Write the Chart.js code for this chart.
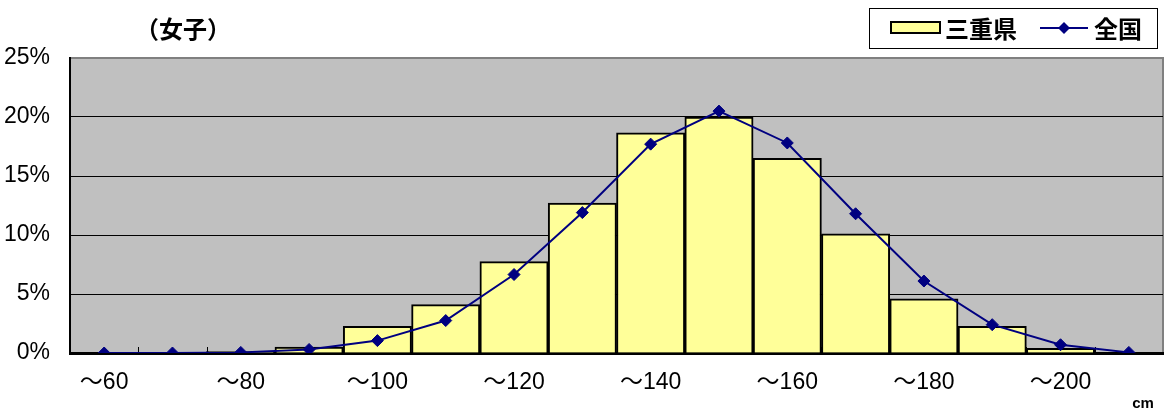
<!DOCTYPE html>
<html>
<head>
<meta charset="utf-8">
<script src="https://cdn.jsdelivr.net/npm/chart.js@4"></script>
<style>
  html, body { margin: 0; padding: 0; background: #fff; }
  #wrap { position: relative; width: 1173px; height: 414px; }
</style>
</head>
<body>
<div id="wrap">
  <canvas id="chart" width="1173" height="414"></canvas>
</div>
<script>
// height classes (cm)
const heightClasses = ['～60', '～70', '～80', '～90', '～100', '～110', '～120', '～130',
                       '～140', '～150', '～160', '～170', '～180', '～190', '～200', '～210'];
// share of girls in each class (%)
const mieValues = [0, 0, 0.15, 0.5, 2.25, 4.1, 7.75, 12.7, 18.65, 20.0, 16.5, 10.1, 4.6, 2.25, 0.4, 0];
const nationalValues = [0, 0, 0.05, 0.3, 1.05, 2.75, 6.65, 11.9, 17.7, 20.5, 17.8, 11.8, 6.1, 2.4, 0.7, 0.05];
const yTicks = [0, 5, 10, 15, 20, 25];

const titleText = '（女子）';
const mieLabel = '三重県';
const nationalLabel = '全国';
const unitText = 'cm';

const cjkFont = '"Noto Sans CJK JP", "Noto Sans", sans-serif';
const latinFont = '"Liberation Sans", "Noto Sans CJK JP", sans-serif';
const navy = '#000080';
const barYellow = '#FFFF99';

// gray plot area, top/right frame and inner x tick marks
const plotFrame = {
    id: 'plotFrame',
    beforeDatasetsDraw(chart) {
        const { ctx, chartArea: a, scales: { x } } = chart;
        ctx.save();
        ctx.strokeStyle = '#000';
        ctx.lineWidth = 1;
        for (let i = 1; i < heightClasses.length; i++) {
            const bx = Math.round((x.getPixelForValue(i - 1) + x.getPixelForValue(i)) / 2) + 0.5;
            ctx.beginPath();
            ctx.moveTo(bx, a.bottom);
            ctx.lineTo(bx, a.bottom - 6);
            ctx.stroke();
        }
        ctx.restore();
    },
    beforeDraw(chart) {
        const { ctx, chartArea: a } = chart;
        ctx.save();
        ctx.fillStyle = '#C0C0C0';
        ctx.fillRect(a.left, a.top, a.right - a.left, a.bottom - a.top);
        ctx.strokeStyle = '#808080';
        ctx.lineWidth = 2;
        ctx.beginPath();
        ctx.moveTo(a.left, a.top);
        ctx.lineTo(a.right, a.top);
        ctx.lineTo(a.right, a.bottom);
        ctx.stroke();
        ctx.restore();
    }
};

// title, boxed legend and unit label
const annotations = {
    id: 'annotations',
    afterDraw(chart) {
        const { ctx, chartArea: a } = chart;
        const ds = chart.data.datasets;
        ctx.save();

        ctx.fillStyle = '#000';
        ctx.font = 'bold 24px ' + cjkFont;
        ctx.textAlign = 'center';
        ctx.textBaseline = 'middle';
        ctx.fillText(titleText, 183, 29);

        // legend box
        const boxRight = a.right - 6, boxLeft = boxRight - 288, top = 8, h = 40, cy = top + h / 2;
        ctx.fillStyle = '#fff';
        ctx.fillRect(boxLeft, top, boxRight - boxLeft, h);
        ctx.strokeStyle = '#000';
        ctx.lineWidth = 1;
        ctx.strokeRect(boxLeft + 0.5, top + 0.5, boxRight - boxLeft, h);

        const bar = ds.find(d => d.type === 'bar');
        const line = ds.find(d => d.type === 'line');
        ctx.textAlign = 'left';
        ctx.font = 'bold 24px ' + cjkFont;

        let x0 = boxLeft + 22;
        ctx.fillStyle = bar.backgroundColor;
        ctx.fillRect(x0, cy - 6, 49, 11);
        ctx.strokeStyle = bar.borderColor;
        ctx.lineWidth = 2;
        ctx.strokeRect(x0, cy - 6, 49, 11);
        ctx.fillStyle = '#000';
        ctx.fillText(bar.label, x0 + 54, cy + 1);

        x0 = boxLeft + 171;
        ctx.strokeStyle = line.borderColor;
        ctx.lineWidth = 2;
        ctx.beginPath();
        ctx.moveTo(x0, cy);
        ctx.lineTo(x0 + 48, cy);
        ctx.stroke();
        ctx.fillStyle = line.pointBackgroundColor;
        ctx.beginPath();
        ctx.moveTo(x0 + 24, cy - 6); ctx.lineTo(x0 + 30, cy); ctx.lineTo(x0 + 24, cy + 6); ctx.lineTo(x0 + 18, cy);
        ctx.closePath();
        ctx.fill();
        ctx.fillStyle = '#000';
        ctx.fillText(line.label, x0 + 54, cy + 1);

        ctx.font = 'bold 15px "Liberation Sans", Arial, sans-serif';
        ctx.textAlign = 'center';
        ctx.fillText(unitText, 1143, 404);
        ctx.restore();
    }
};

const ctx = document.getElementById('chart').getContext('2d');
new Chart(ctx, {
    data: {
        labels: heightClasses,
        datasets: [
            {
                type: 'line',
                label: nationalLabel,
                data: nationalValues,
                order: 0,
                borderColor: navy,
                borderWidth: 2,
                tension: 0,
                pointStyle: 'rectRot',
                pointRadius: 6,
                pointBackgroundColor: navy,
                pointBorderColor: navy,
                pointBorderWidth: 1
            },
            {
                type: 'bar',
                label: mieLabel,
                data: mieValues,
                order: 1,
                backgroundColor: barYellow,
                borderColor: '#000',
                borderWidth: 2,
                barPercentage: 1,
                categoryPercentage: 1
            }
        ]
    },
    options: {
        responsive: false,
        animation: false,
        devicePixelRatio: 1,
        layout: { padding: { left: 0, right: 10, top: 58, bottom: 0 } },
        plugins: {
            legend: { display: false },
            tooltip: { enabled: false }
        },
        scales: {
            x: {
                grid: { display: false, drawTicks: false },
                border: { color: '#000', width: 3 },
                ticks: {
                    autoSkip: false,
                    maxRotation: 0,
                    padding: 16,
                    color: '#000',
                    font: { family: latinFont, size: 23 },
                    callback: (v, i) => i % 2 === 0 ? heightClasses[i] : ''
                },
                afterFit: s => { s.height = 61; }
            },
            y: {
                min: yTicks[0],
                max: yTicks[yTicks.length - 1],
                afterBuildTicks: s => { s.ticks = yTicks.map(v => ({ value: v })); },
                grid: {
                    drawTicks: false,
                    color: c => c.tick && c.tick.value === 25 ? 'rgba(0,0,0,0)' : '#000',
                    lineWidth: 1
                },
                border: { color: '#000', width: 2 },
                ticks: {
                    padding: 20,
                    color: '#000',
                    font: { family: '"Liberation Sans Narrow", "Liberation Sans", Arial, sans-serif', size: 23 },
                    callback: v => v + '%'
                },
                afterFit: s => { s.width = 70; }
            }
        }
    },
    plugins: [plotFrame, annotations]
});
</script>
</body>
</html>
